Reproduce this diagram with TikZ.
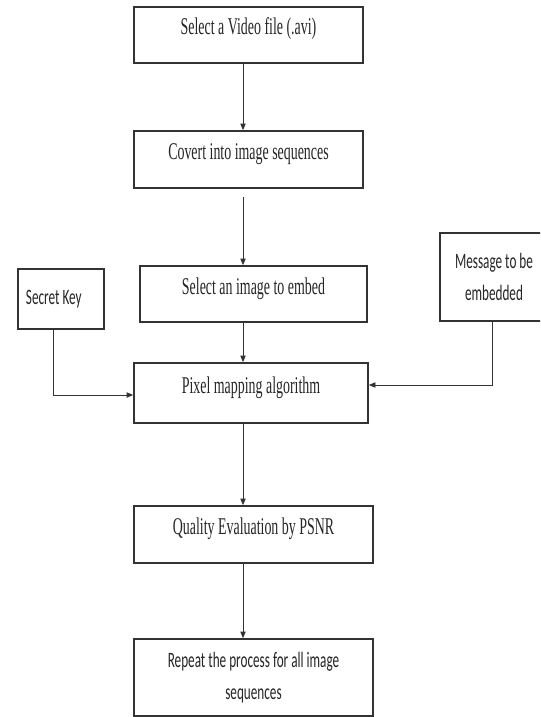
\documentclass[tikz,border=0pt]{standalone}
\usepackage{fontspec}
\setmainfont{Liberation Serif}[FakeStretch=0.58]
\newfontfamily\calibri{Carlito}[FakeStretch=0.6]
\usepackage{tikz}
\usetikzlibrary{arrows.meta,positioning,calc}
\definecolor{cline}{HTML}{333333}
\definecolor{ctext}{HTML}{262626}
\tikzset{
  box/.style={draw=cline, line width=1.2pt, rectangle, inner sep=2pt, text=ctext,
    font=\fontsize{18}{22}\selectfont, text height=10pt, text depth=10pt},
  side/.style={box, font=\calibri\fontsize{16.5}{24.5}\selectfont, text height=, text depth=},
  pre/.style={-{Triangle[length=5pt,width=4pt]}, draw=cline, line width=0.7pt},
}
\begin{document}
\begin{tikzpicture}[x=0.75pt,y=-0.75pt]
\clip (0,0) rectangle (540,717);
\fill[white] (0,0) rectangle (540,717);
% main column
\node[box, minimum width=229*0.75pt, minimum height=56*0.75pt] (video) at (248.5,35) {Select a Video file (.avi)};
\node[box, minimum width=229*0.75pt, minimum height=57*0.75pt] (conv) at (248.5,159.5) {Covert into image sequences};
\node[box, minimum width=227*0.75pt, minimum height=56*0.75pt] (sel) at (253.5,294) {Select an image to embed};
\node[box, minimum width=234*0.75pt, minimum height=60*0.75pt, yshift=3pt] (pix) at (251,397) {Pixel mapping algorithm};
\node[box, minimum width=239*0.75pt, minimum height=57*0.75pt] (psnr) at (253.5,534.5) {Quality Evaluation by PSNR};
\node[side, minimum width=239*0.75pt, minimum height=77*0.75pt, align=center] (rep) at (253.5,677.5) {Repeat the process for all image\\sequences};
% inputs
\node[side, minimum width=86*0.75pt, minimum height=60*0.75pt, text width=70*0.75pt, align=flush left] (key) at (61,299) {Secret Key};
\node[side, minimum width=108*0.75pt, minimum height=88*0.75pt, align=center] (msg) at (494,277) {Message to be\\embedded};
\coordinate (spine) at (243,0);
\coordinate (kx) at (53,0);
\coordinate (mx) at (492,0);
\foreach \a/\b in {video/conv, sel/pix, pix/psnr, psnr/rep}
  \draw[pre] (\a.south -| spine) -- (\b.north -| spine);
\draw[pre, shorten <=6.5pt] (conv.south -| spine) -- (sel.north -| spine);
\draw[pre] (key.south -| kx) |- ([yshift=-1.5pt]pix.west);
\draw[pre] (msg.south -| mx) |- ([yshift=6pt]pix.east);
\end{tikzpicture}
\end{document}
